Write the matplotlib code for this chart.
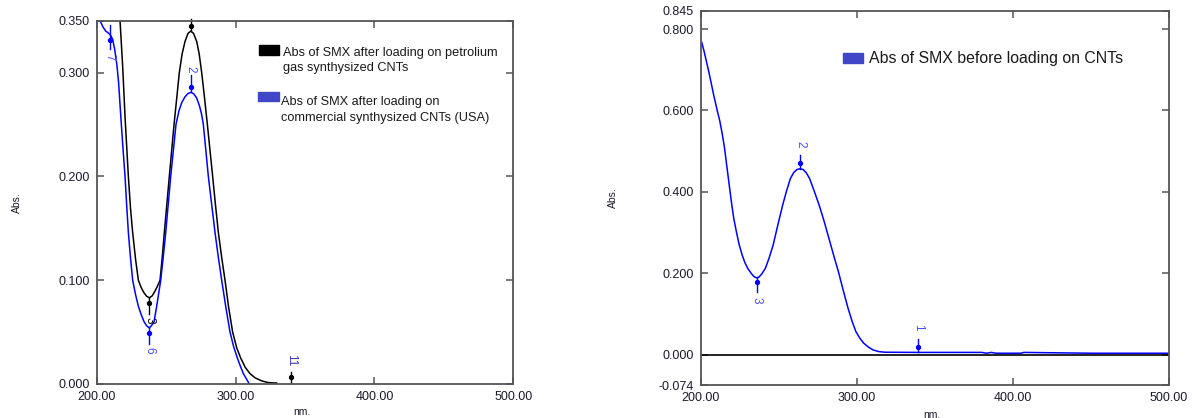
import numpy as np
import matplotlib
matplotlib.use('Agg')
import matplotlib.pyplot as plt
from matplotlib.patches import Rectangle

plt.rcParams['font.family'] = ['Liberation Sans', 'DejaVu Sans']

W, H = 1194, 418

# left panel: after loading (petroleum gas CNTs, black)
black_nm = [200, 205, 210, 214, 216.8, 218.7, 220.5, 222.8, 224.3, 225.9, 228, 230,
            232, 234, 236, 237.9, 240, 242, 244, 245.6, 247.2, 248.7, 250.5, 252.3,
            254, 255.7, 257.6, 259.5, 261.5, 263.6, 265.7, 267.7, 269.8, 272, 273.8,
            275.6, 277.7, 279.7, 281.6, 283.5, 285.5, 287.6, 290, 292.4, 295, 297.9,
            300.8, 303.7, 307, 310.4, 314, 318.8, 323, 327.2, 329.6]
black_abs = [0.60, 0.53, 0.46, 0.39, 0.350, 0.306, 0.255, 0.200, 0.170, 0.146, 0.120, 0.100,
             0.093, 0.088, 0.0845, 0.083, 0.085, 0.0895, 0.095, 0.100, 0.122, 0.146, 0.173, 0.200,
             0.225, 0.250, 0.275, 0.300, 0.318, 0.330, 0.3377, 0.340, 0.3377, 0.330, 0.318,
             0.300, 0.275, 0.250, 0.225, 0.200, 0.173, 0.146, 0.122, 0.100, 0.074, 0.050,
             0.035, 0.025, 0.016, 0.010, 0.006, 0.003, 0.0015, 0.001, 0.001]

# left panel: after loading (commercial CNTs, USA, blue)
blue_nm = [200, 202.4, 204.5, 206.5, 208.5, 210, 211.5, 213, 214.5, 215.8, 217, 218,
           219.2, 220.4, 221.6, 222.8, 224.3, 225.9, 228, 230, 232, 234.1, 236, 237.9,
           239.6, 241.3, 242.2, 243.2, 244.6, 246.1, 247.9, 249.7, 251.5, 253.3, 255.2,
           257.1, 259.2, 261.2, 263.5, 265.6, 267.7, 269.8, 272, 274, 275.5, 276.8,
           278.6, 280.4, 282.8, 285.2, 287.6, 290, 293, 296, 298.6, 301.3, 303.5, 305.6,
           307.8, 309.9, 312, 316]
blue_abs = [0.365, 0.350, 0.344, 0.340, 0.338, 0.336, 0.332, 0.322, 0.308, 0.290, 0.265, 0.245,
            0.222, 0.200, 0.172, 0.146, 0.122, 0.100, 0.086, 0.075, 0.067, 0.060, 0.056, 0.054,
            0.0565, 0.060, 0.067, 0.075, 0.087, 0.100, 0.122, 0.146, 0.173, 0.200, 0.225,
            0.250, 0.263, 0.271, 0.2765, 0.2797, 0.281, 0.2797, 0.2755, 0.268, 0.260, 0.250,
            0.225, 0.200, 0.173, 0.146, 0.122, 0.100, 0.074, 0.050, 0.036, 0.025, 0.017, 0.010,
            0.005, 0.000, -0.005, -0.012]

# right panel: before loading
before_nm = [200.5, 202, 203.5, 205, 206.5, 208, 209.5, 210.5, 212, 213.5, 215, 216.5,
             218, 219.5, 221, 222.7, 224.5, 226.4, 228.2, 230, 232, 234, 235.6, 237.2,
             239, 241.2, 243.5, 246.2, 249.2, 252.3, 254.8, 257.3, 259.5, 261.5, 263.5,
             265.5, 267.5, 269.6, 272.5, 275.8, 279, 282, 285, 288.1, 291.2, 294.3, 296.8,
             299.3, 301.8, 304.2, 307.3, 310.4, 314, 317.8, 340, 380, 383, 386, 389, 392,
             405, 407, 450, 500]
before_abs = [0.767, 0.745, 0.720, 0.695, 0.668, 0.640, 0.615, 0.598, 0.575, 0.545, 0.510, 0.465,
              0.420, 0.375, 0.335, 0.302, 0.270, 0.245, 0.226, 0.212, 0.201, 0.192, 0.189, 0.191,
              0.199, 0.212, 0.236, 0.269, 0.318, 0.367, 0.402, 0.433, 0.448, 0.455, 0.457,
              0.455, 0.447, 0.433, 0.403, 0.367, 0.327, 0.286, 0.245, 0.204, 0.158, 0.114, 0.083,
              0.057, 0.041, 0.029, 0.019, 0.012, 0.008, 0.0065, 0.006, 0.006, 0.004, 0.006, 0.004,
              0.004, 0.004, 0.006, 0.004, 0.004]

# peak pick marks: (nm, dot, line bottom, line top, label y, text, line colour, text colour)
left_marks = [
    (209.4, 0.331, 0.323, 0.346, 0.315, '7', 'blue', '#4a4aff'),
    (267.7, 0.345, 0.340, 0.352, 0.40, '', 'black', 'black'),
    (267.7, 0.286, 0.282, 0.298, 0.303, '2', 'blue', '#4a4aff'),
    (237.9, 0.078, 0.0675, 0.083, 0.061, '3', 'black', 'black'),
    (237.9, 0.049, 0.039, 0.054, 0.032, '6', 'blue', '#4a4aff'),
    (339.7, 0.0065, 0.001, 0.012, 0.023, '11', 'black', '#3a3ac0'),
]
right_marks = [
    (263.5, 0.472, 0.457, 0.490, 0.517, '2', 'blue', '#4a4aff'),
    (235.8, 0.180, 0.155, 0.192, 0.135, '3', 'blue', '#4a4aff'),
    (339.3, 0.020, 0.006, 0.040, 0.068, '1', 'blue', '#4a4aff'),
]

left_yticks = [0.0, 0.1, 0.2, 0.3, 0.35]
right_yticks = [-0.074, 0.0, 0.2, 0.4, 0.6, 0.8, 0.845]
xticks = [200, 300, 400, 500]


def axes_at(fig, x0, y0, x1, y1):
    return fig.add_axes([x0 / W, 1 - y1 / H, (x1 - x0) / W, (y1 - y0) / H])


def style(ax, yticks, ylim):
    ax.set_xlim(200, 500)
    ax.set_ylim(*ylim)
    ax.set_xticks(xticks)
    ax.set_xticklabels(['%.2f' % v for v in xticks])
    ax.set_yticks(yticks)
    ax.set_yticklabels(['%.3f' % v for v in yticks])
    for s in ax.spines.values():
        s.set_color('#555555')
        s.set_linewidth(1.3)
    ax.tick_params(direction='in', top=True, right=True, length=5, width=1.1,
                   color='#555555', labelsize=9, labelcolor='#1a1a2a', pad=5)
    ax.set_xlabel('nm.', fontsize=7.5, color='#1a1a2a')
    ax.set_ylabel('Abs.', fontsize=7.5, color='#1a1a2a')


def marks(ax, items):
    for nm, dot, lo, hi, ly, txt, lc, tc in items:
        ax.plot([nm, nm], [lo, hi], color=lc, lw=1.0, clip_on=False)
        ax.plot([nm], [dot], 'o', ms=2.8, color=lc, clip_on=False)
        if txt:
            ax.text(nm, ly, txt, rotation=-90, ha='center', va='center',
                    fontsize=8.5, color=tc)


fig = plt.figure(figsize=(W / 100, H / 100), dpi=100)

ax1 = axes_at(fig, 96.7, 20.7, 513.3, 384)
ax1.plot(black_nm, black_abs, color='black', lw=1.1)
ax1.plot(blue_nm, blue_abs, color='blue', lw=1.1)
style(ax1, left_yticks, (0, 0.35))
marks(ax1, left_marks)
ax1.xaxis.set_label_coords(0.493, -0.062)
ax1.yaxis.set_label_coords(-0.18, 0.5)

ax2 = axes_at(fig, 701, 10.7, 1169, 385)
ax2.axhline(0, color='black', lw=1.2)
ax2.plot(before_nm, before_abs, color='blue', lw=1.1)
style(ax2, right_yticks, (-0.074, 0.845))
marks(ax2, right_marks)
ax2.xaxis.set_label_coords(0.494, -0.066)
ax2.yaxis.set_label_coords(-0.178, 0.5)


def fx(x):
    return x / W


def fy(y):
    return 1 - y / H


def legend_box(x0, y0, x1, y1, color):
    fig.patches.append(Rectangle((fx(x0), fy(y1)), (x1 - x0) / W, (y1 - y0) / H,
                                 transform=fig.transFigure, color=color))


legend_box(259, 45, 279, 55, 'black')
fig.text(fx(283), fy(53), 'Abs of SMX after loading on petrolium', fontsize=9.2,
         va='center', color='#1a1a1a')
fig.text(fx(283), fy(68.5), 'gas synthysized CNTs', fontsize=9.2,
         va='center', color='#1a1a1a')
legend_box(258, 92, 279, 101, '#3f46c8')
fig.text(fx(281), fy(102), 'Abs of SMX after loading on', fontsize=9.2,
         va='center', color='#1a1a1a')
fig.text(fx(281), fy(117.5), 'commercial synthysized CNTs (USA)', fontsize=9.2,
         va='center', color='#1a1a1a')

legend_box(843, 53, 863, 63, '#3f46c8')
fig.text(fx(869), fy(59), 'Abs of SMX before loading on CNTs', fontsize=11.4,
         va='center', color='#1a1a1a')

fig.savefig('out.png', dpi=100)
